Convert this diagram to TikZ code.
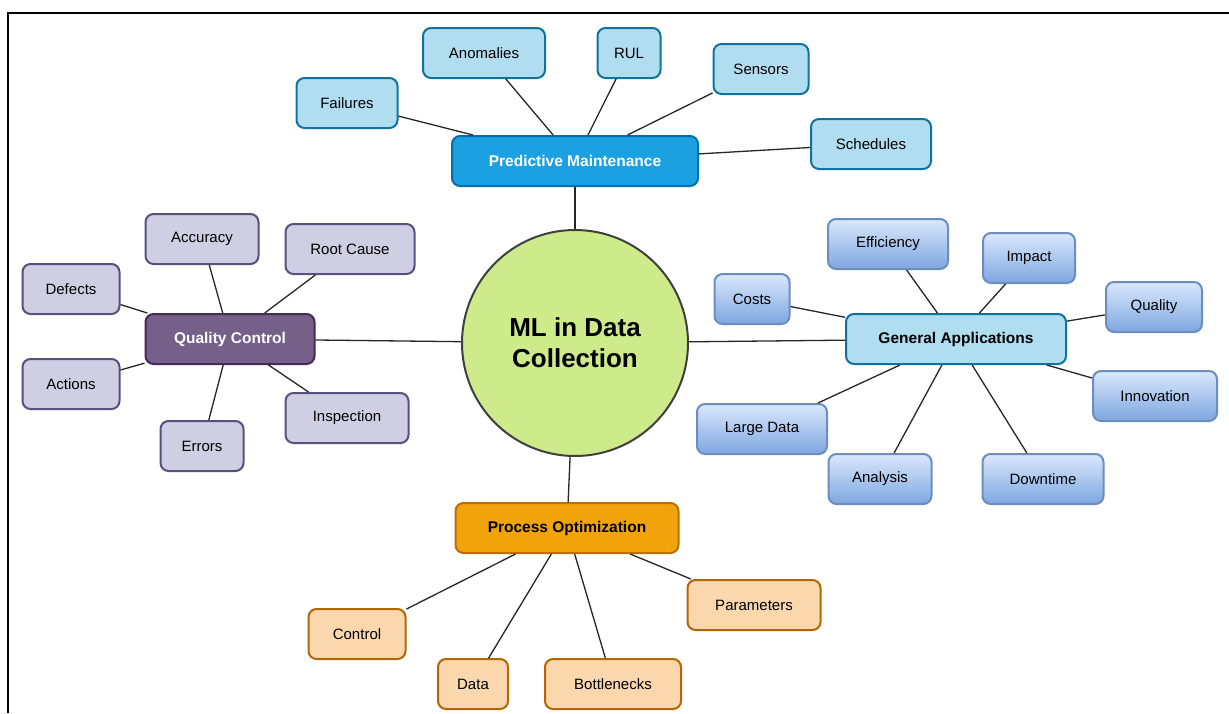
\documentclass[tikz,border=0pt]{standalone}
\usepackage{fontspec}
\setmainfont{Liberation Sans}
\usepackage{xcolor}
\usepackage{tikz}

\definecolor{mlFill}{HTML}{CDEB8B}
\definecolor{mlLine}{HTML}{3F3F3F}
\definecolor{pmFill}{HTML}{1BA1E2}
\definecolor{pmLine}{HTML}{006EAF}
\definecolor{pmLeaf}{HTML}{B1DDF0}
\definecolor{pmLeafLine}{HTML}{10739E}
\definecolor{qcFill}{HTML}{76608A}
\definecolor{qcLine}{HTML}{432D57}
\definecolor{qcLeaf}{HTML}{D0CEE2}
\definecolor{qcLeafLine}{HTML}{56517E}
\definecolor{gaTop}{HTML}{DAE8FC}
\definecolor{gaBot}{HTML}{7EA6E0}
\definecolor{gaLine}{HTML}{6C8EBF}
\definecolor{poFill}{HTML}{F0A30A}
\definecolor{poLine}{HTML}{BD7000}
\definecolor{poLeaf}{HTML}{FAD7AC}
\definecolor{poLeafLine}{HTML}{B46504}

\tikzset{
  box/.style={rectangle, rounded corners=8pt, line width=2pt, minimum height=50pt,
    inner sep=0pt, font=\fontsize{15}{18}\selectfont},
  hub/.style={box, font=\fontsize{15.5}{18}\selectfont\bfseries},
  pmhub/.style={hub, fill=pmFill, draw=pmLine, text=white},
  qchub/.style={hub, fill=qcFill, draw=qcLine, text=white},
  gahub/.style={hub, fill=pmLeaf, draw=pmLeafLine},
  pohub/.style={hub, fill=poFill, draw=poLine},
  pmleaf/.style={box, fill=pmLeaf, draw=pmLeafLine},
  qcleaf/.style={box, fill=qcLeaf, draw=qcLeafLine},
  galeaf/.style={box, top color=gaTop, bottom color=gaBot, draw=gaLine},
  poleaf/.style={box, fill=poLeaf, draw=poLeafLine},
  link/.style={line width=1.3pt, draw=black!85},
}

\begin{document}
\begin{tikzpicture}[x=1pt,y=-1pt]
    \useasboundingbox (0,0) rectangle (1229,713);
    \draw[line width=2pt] (8,713) -- (8,13) -- (1229,13);

    % centre
    \node[circle, minimum size=226pt, inner sep=0pt, line width=2pt, fill=mlFill, draw=mlLine,
      align=center, font=\fontsize{26}{31}\selectfont\bfseries] (ml) at (575,343) {ML in Data\\Collection};

    % predictive maintenance
    \node[pmhub, minimum width=246pt] (pm) at (575,161) {Predictive Maintenance};
    \node[pmleaf, minimum width=101pt] (failures) at (347,103) {Failures};
    \node[pmleaf, minimum width=122pt] (anomalies) at (484,53) {Anomalies};
    \node[pmleaf, minimum width=63pt] (rul) at (629,53) {RUL};
    \node[pmleaf, minimum width=95pt] (sensors) at (761,69) {Sensors};
    \node[pmleaf, minimum width=120pt] (schedules) at (871,144) {Schedules};

    % quality control
    \node[qchub, minimum width=169pt] (qc) at (230,339) {Quality Control};
    \node[qcleaf, minimum width=113pt] (accuracy) at (202,239) {Accuracy};
    \node[qcleaf, minimum width=129pt] (rootcause) at (350,249) {Root Cause};
    \node[qcleaf, minimum width=97pt] (defects) at (71,289) {Defects};
    \node[qcleaf, minimum width=97pt] (actions) at (71,384) {Actions};
    \node[qcleaf, minimum width=83pt] (errors) at (202,446) {Errors};
    \node[qcleaf, minimum width=123pt] (inspection) at (347,418) {Inspection};

    % general applications
    \node[gahub, minimum width=220pt] (ga) at (956,339) {General Applications};
    \node[galeaf, minimum width=120pt] (efficiency) at (888,244) {Efficiency};
    \node[galeaf, minimum width=92pt] (impact) at (1029,258) {Impact};
    \node[galeaf, minimum width=75pt] (costs) at (752,299) {Costs};
    \node[galeaf, minimum width=96pt] (quality) at (1154,307) {Quality};
    \node[galeaf, minimum width=124pt] (innovation) at (1155,396) {Innovation};
    \node[galeaf, minimum width=130pt] (largedata) at (762,429) {Large Data};
    \node[galeaf, minimum width=103pt] (analysis) at (880,479) {Analysis};
    \node[galeaf, minimum width=121pt] (downtime) at (1043,479) {Downtime};

    % process optimization
    \node[pohub, minimum width=223pt] (po) at (567,528) {Process Optimization};
    \node[poleaf, minimum width=97pt] (control) at (357,634) {Control};
    \node[poleaf, minimum width=70pt] (data) at (473,684) {Data};
    \node[poleaf, minimum width=136pt] (bottlenecks) at (613,684) {Bottlenecks};
    \node[poleaf, minimum width=133pt] (parameters) at (754,605) {Parameters};

    % connectors
    \draw[link] (ml) -- (pm);
    \draw[link] (ml) -- (qc);
    \draw[link] (ml) -- (ga);
    \draw[link] (ml) -- (po);
    \foreach \leaf in {failures,anomalies,rul,sensors,schedules}
      \draw[link] (pm) -- (\leaf);
    \foreach \leaf in {accuracy,rootcause,defects,actions,errors,inspection}
      \draw[link] (qc) -- (\leaf);
    \foreach \leaf in {efficiency,impact,costs,quality,innovation,largedata,analysis,downtime}
      \draw[link] (ga) -- (\leaf);
    \foreach \leaf in {control,data,bottlenecks,parameters}
      \draw[link] (po) -- (\leaf);
\end{tikzpicture}
\end{document}
